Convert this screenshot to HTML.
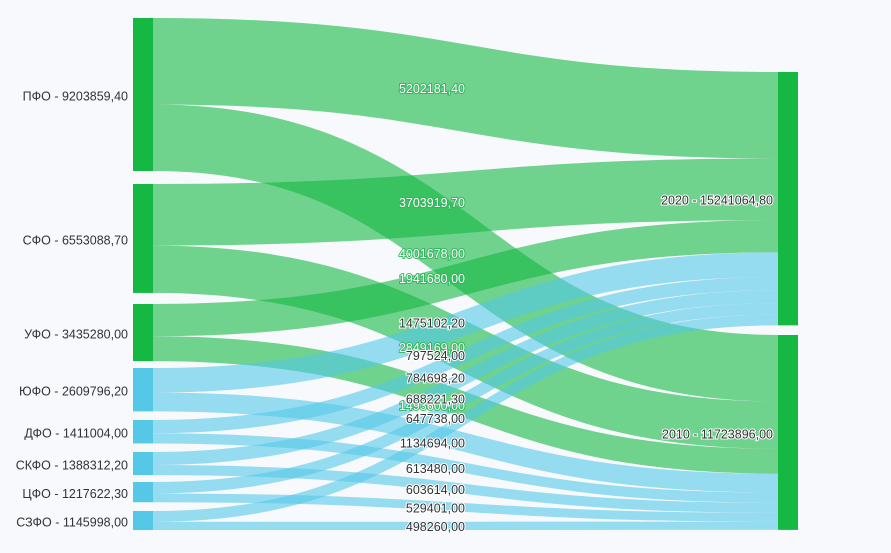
<!DOCTYPE html>
<html><head><meta charset="utf-8"><style>
html,body{margin:0;padding:0;background:#f8f9fd;}
svg{display:block;font-family:"Liberation Sans",sans-serif;font-size:12.5px;}
</style></head><body>
<svg id="s" width="891" height="553" xmlns="http://www.w3.org/2000/svg"></svg>
<script>
var s=153/9203859.4;
var src=[["ПФО","9203859,40",18,"g",5202181.4,4001678,"5202181,40","4001678,00"],
["СФО","6553088,70",184,"g",3703919.7,2849169,"3703919,70","2849169,00"],
["УФО","3435280,00",304,"g",1941680,1493600,"1941680,00","1493600,00"],
["ЮФО","2609796,20",368,"b",1475102.2,1134694,"1475102,20","1134694,00"],
["ДФО","1411004,00",420,"b",797524,613480,"797524,00","613480,00"],
["СКФО","1388312,20",452,"b",784698.2,603614,"784698,20","603614,00"],
["ЦФО","1217622,30",482,"b",688221.3,529401,"688221,30","529401,00"],
["СЗФО","1145998,00",511,"b",647738,498260,"647738,00","498260,00"]];
var col={g:"#14b843",b:"#55c8e8"};
var t=[72,335];var out="",labs="";
var x0=153,x1=778,xm=(x0+x1)/2;
src.forEach(function(n){
 var y=n[2];
 for(var k=0;k<2;k++){
  var h=n[4+k]*s;var ys=y+h/2,yt=t[k]+h/2;
  out+='<path d="M'+x0+','+ys+'C'+xm+','+ys+' '+xm+','+yt+' '+x1+','+yt+'" fill="none" stroke="'+col[n[3]]+'" stroke-opacity="0.6" stroke-width="'+h+'"/>';
  var ly=(ys+yt)/2+5;
  if(n[3]=="g") labs+='<text x="465" y="'+ly+'" text-anchor="end" fill="#fff" stroke="#2fb35a" stroke-width="1.8" paint-order="stroke">'+n[6+k]+'</text>';
  else labs+='<text x="465" y="'+ly+'" text-anchor="end" fill="#333" stroke="#fff" stroke-width="2" paint-order="stroke">'+n[6+k]+'</text>';
  y+=h;t[k]+=h;
 }
});
src.forEach(function(n){
 var h=(n[4]+n[5])*s;
 out+='<rect x="133" y="'+n[2]+'" width="20" height="'+h+'" fill="'+col[n[3]]+'"/>';
 labs+='<text x="128" y="'+(n[2]+h/2+6)+'" text-anchor="end" fill="#333">'+n[0]+' - '+n[1]+'</text>';
});
var r=[[72,15241064.8,"2020 - 15241064,80"],[335,11723896,"2010 - 11723896,00"]];
r.forEach(function(n){var h=n[1]*s;
 out+='<rect x="778" y="'+n[0]+'" width="20" height="'+h+'" fill="#14b843"/>';
 labs+='<text x="773" y="'+(n[0]+h/2+6)+'" text-anchor="end" fill="#333" stroke="#fff" stroke-width="2" paint-order="stroke">'+n[2]+'</text>';
});
document.getElementById("s").innerHTML=out+labs;
</script>
</body></html>
